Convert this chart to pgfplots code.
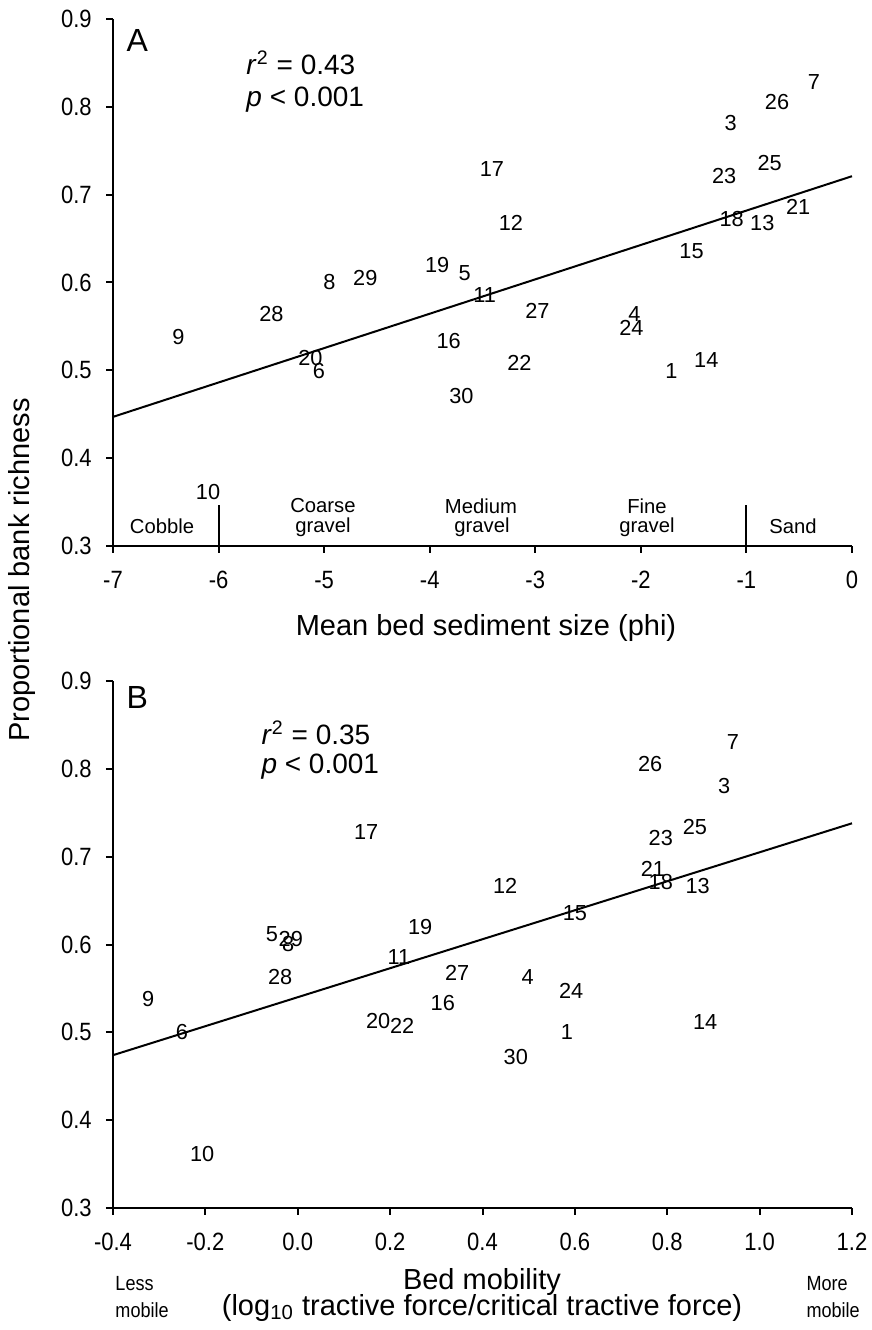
\documentclass[border=0pt]{standalone}
\usepackage{fontspec}
\setmainfont{Liberation Sans}
\newfontfamily\narrowfont[FakeStretch=0.88]{Liberation Sans}
\usepackage{pgfplots}
\pgfplotsset{compat=1.18}
\usepackage{pgfplotstable}

% site number, mean bed sediment size (phi), proportional bank richness
\pgfplotstableread{
x y site
-1.71 0.499 1
-1.15 0.782 3
-2.06 0.564 4
-3.67 0.611 5
-5.05 0.499 6
-0.36 0.828 7
-4.95 0.600 8
-6.38 0.538 9
-6.10 0.362 10
-3.48 0.586 11
-3.23 0.668 12
-0.85 0.668 13
-1.38 0.512 14
-1.52 0.636 15
-3.82 0.533 16
-3.41 0.729 17
-1.14 0.672 18
-3.93 0.620 19
-5.13 0.514 20
-0.51 0.686 21
-3.15 0.508 22
-1.21 0.721 23
-2.09 0.548 24
-0.78 0.736 25
-0.71 0.806 26
-2.98 0.568 27
-5.50 0.564 28
-4.61 0.605 29
-3.70 0.471 30
}\sizedata

% site number, bed mobility, proportional bank richness
\pgfplotstableread{
x y site
0.583 0.500 1
0.923 0.780 3
0.498 0.563 4
-0.056 0.612 5
-0.251 0.500 6
0.942 0.830 7
-0.021 0.600 8
-0.324 0.538 9
-0.207 0.362 10
0.219 0.586 11
0.449 0.667 12
0.866 0.667 13
0.882 0.512 14
0.600 0.636 15
0.314 0.533 16
0.148 0.728 17
0.786 0.671 18
0.265 0.620 19
0.174 0.513 20
0.769 0.686 21
0.226 0.507 22
0.786 0.721 23
0.592 0.547 24
0.860 0.734 25
0.763 0.806 26
0.345 0.568 27
-0.038 0.563 28
-0.015 0.606 29
0.472 0.472 30
}\mobilitydata

\pgfplotsset{
  panel/.style={
    scale only axis, width=295.6pt, height=210.8pt,
    axis lines=left, axis line style={-, line width=0.8pt},
    ymin=0.3, ymax=0.9, ytick={0.3,0.4,0.5,0.6,0.7,0.8,0.9},
    tick align=outside, major tick length=2.8pt,
    tick style={line width=0.8pt, black},
    ticklabel style={font=\fontsize{10}{11}\narrowfont},
    xticklabel style={yshift=-3.6pt},
    yticklabel style={xshift=-2.2pt},
    /pgf/number format/assume math mode=true,
    yticklabel style={/pgf/number format/.cd, fixed, fixed zerofill, precision=1},
    clip=false,
  },
  sites/.style={
    draw=none, mark=none, point meta=explicit symbolic,
    nodes near coords, nodes near coords align={anchor=center},
    every node near coord/.append style={font=\fontsize{8.7}{9}\selectfont, inner sep=0pt, anchor=center},
  },
  fit/.style={black, line width=0.8pt, mark=none},
}

\begin{document}
\begin{tikzpicture}
\useasboundingbox (0pt,0pt) rectangle (348.4pt,-532pt);

% Panel A
\begin{axis}[panel, at={(45.2pt,-7.6pt)}, anchor=north west,
  xmin=-7, xmax=0, xtick={-7,-6,-5,-4,-3,-2,-1,0}]
\addplot[sites] table[x=x, y=y, meta=site] {\sizedata};
\addplot[fit] coordinates {(-7,0.447) (0,0.721)};
\addplot[fit] coordinates {(-6,0.3) (-6,0.347)};
\addplot[fit] coordinates {(-1,0.3) (-1,0.347)};
\end{axis}

% Panel B
\begin{axis}[panel, at={(45.2pt,-272.4pt)}, anchor=north west,
  xmin=-0.4, xmax=1.2, xtick={-0.4,-0.2,0,0.2,0.4,0.6,0.8,1.0,1.2},
  xticklabel style={/pgf/number format/.cd, fixed, fixed zerofill, precision=1}]
\addplot[sites] table[x=x, y=y, meta=site] {\mobilitydata};
\addplot[fit] coordinates {(-0.4,0.474) (1.2,0.738)};
\end{axis}

% text placed in pixel units of the reference
\begin{scope}[x=0.4pt, y=-0.4pt, every node/.style={inner sep=0pt}]
\node[rotate=90, font=\fontsize{11.6}{12}\selectfont] at (22,570) {Proportional bank richness};
\node[anchor=west, font=\fontsize{12.8}{14}\selectfont] at (126,40) {A};
\node[anchor=west, font=\fontsize{11.2}{12}\selectfont] at (246,63) {\textit{r}\textsuperscript{2} = 0.43};
\node[anchor=west, font=\fontsize{11.2}{12}\selectfont] at (246,100) {\textit{p} < 0.001};
\node[anchor=west, font=\fontsize{12.8}{14}\selectfont] at (126,697) {B};
\node[anchor=west, font=\fontsize{11.2}{12}\selectfont] at (261,733) {\textit{r}\textsuperscript{2} = 0.35};
\node[anchor=west, font=\fontsize{11.2}{12}\selectfont] at (261,767) {\textit{p} < 0.001};
\begin{scope}[every node/.append style={font=\fontsize{8.1}{9}\selectfont}]
\node at (162,526) {Cobble};
\node at (323,506) {Coarse};
\node at (323,527) {gravel};
\node at (481,506) {Medium};
\node at (482,527) {gravel};
\node at (647,506) {Fine};
\node at (647,527) {gravel};
\node at (793,526) {Sand};
\end{scope}
\node[font=\fontsize{11.6}{12}\selectfont] at (486,628) {Mean bed sediment size (phi)};
\node[font=\fontsize{11.6}{12}\selectfont] at (482,1282) {Bed mobility};
\node[font=\fontsize{11.6}{12}\selectfont] at (482,1308) {(log\textsubscript{10} tractive force/critical tractive force)};
\begin{scope}[every node/.append style={font=\fontsize{8.2}{9}\narrowfont, anchor=west}]
\node at (115,1284) {Less};
\node at (115,1310) {mobile};
\node at (806,1284) {More};
\node at (806,1310) {mobile};
\end{scope}
\end{scope}
\end{tikzpicture}
\end{document}
